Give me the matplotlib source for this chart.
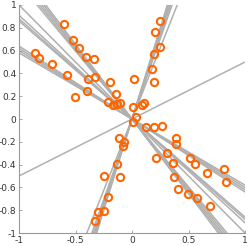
import matplotlib
matplotlib.use("Agg")
import matplotlib.pyplot as plt
import numpy as np

# data points (x, y)
pts_x = [-0.602, -0.519, -0.472, -0.861, -0.820, -0.404, -0.334, -0.705, -0.573, -0.389,
         -0.330, -0.197, -0.396, -0.507, -0.142, -0.210, -0.171, -0.130, -0.106,
         0.248, 0.206, 0.248, 0.197, 0.177, 0.020, 0.192, 0.106, 0.091, 0.012, 0.035,
         0.012, 0.124, 0.195, 0.265,
         0.387, 0.387, 0.313, 0.209, 0.360, 0.516, 0.558, 0.811, 0.666, 0.835, 0.374,
         0.410, 0.498, 0.578, 0.690,
         -0.115, -0.071, -0.082, -0.133, -0.248, -0.106, -0.212, -0.245, -0.304, -0.330]
pts_y = [0.836, 0.693, 0.620, 0.582, 0.535, 0.541, 0.524, 0.482, 0.383, 0.354,
         0.368, 0.327, 0.246, 0.190, 0.220, 0.147, 0.123, 0.132, 0.138,
         0.860, 0.760, 0.629, 0.570, 0.436, 0.351, 0.325, 0.138, 0.123, 0.103, 0.020,
         -0.026, -0.067, -0.073, -0.058,
         -0.170, -0.222, -0.301, -0.345, -0.386, -0.339, -0.398, -0.439, -0.474, -0.556, -0.512,
         -0.611, -0.661, -0.690, -0.760,
         -0.164, -0.204, -0.237, -0.395, -0.497, -0.512, -0.681, -0.804, -0.818, -0.892]

# slopes of fitted lines through the origin
line_slopes = [2.82, 2.92, 3.02, 3.12, 3.2,
               2.5,
               0.5,
               -1.19, -1.22, -1.25, -1.28, -1.31,
               -1.0,
               -0.86, -0.88, -0.91,
               -0.58, -0.60, -0.62, -0.64]

xticks = [-1, -0.5, 0, 0.5, 1]
xticklabels = ["-1", "-0.5", "0", "0.5", "1"]
yticks = [-1, -0.8, -0.6, -0.4, -0.2, 0, 0.2, 0.4, 0.6, 0.8, 1]
yticklabels = ["-1", "-0.8", "-0.6", "-0.4", "-0.2", "0", "0.2", "0.4", "0.6", "0.8", "1"]

fig = plt.figure(figsize=(2.49, 2.46), dpi=100)
ax = fig.add_axes([0.0763, 0.0528, 0.984 - 0.0763, 0.9797 - 0.0528])

xs = np.array([-1.2, 1.2])
for s in line_slopes:
    ax.plot(xs, s * xs, color="#b0b0b0", lw=1.1, zorder=1, solid_capstyle="butt")

ax.plot(pts_x, pts_y, linestyle="none", marker="o", ms=5.2, mew=1.5,
        mfc="none", mec="#ff6600", zorder=3)

ax.set_xlim(-1, 1)
ax.set_ylim(-1, 1)
ax.set_xticks(xticks)
ax.set_xticklabels(xticklabels)
ax.set_yticks(yticks)
ax.set_yticklabels(yticklabels)
for sp in ["top", "right"]:
    ax.spines[sp].set_visible(False)
for sp in ["left", "bottom"]:
    ax.spines[sp].set_color("#999999")
    ax.spines[sp].set_linewidth(0.8)
ax.tick_params(direction="in", length=2.5, width=0.6, color="#999999",
               labelsize=6.5, labelcolor="#333333", pad=2)

fig.savefig("out.png", dpi=100)
